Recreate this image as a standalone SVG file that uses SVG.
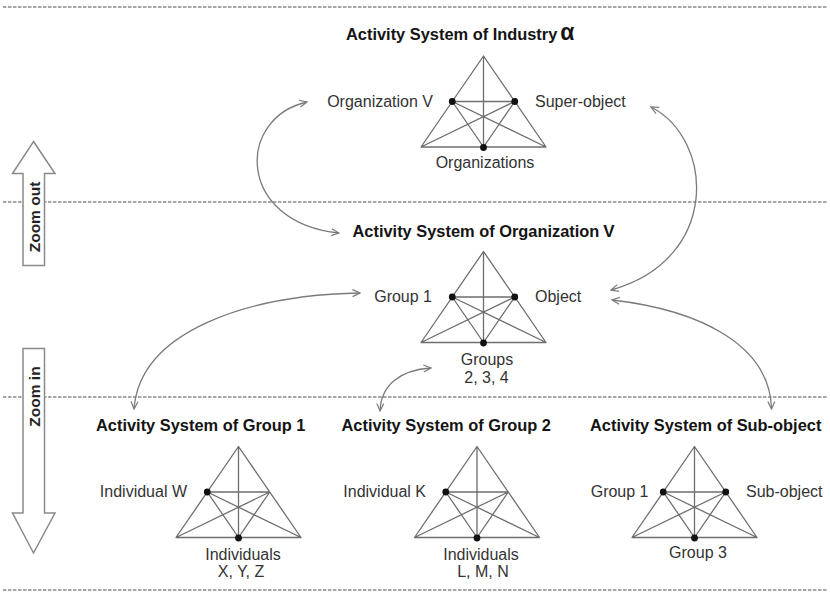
<svg xmlns="http://www.w3.org/2000/svg" xmlns:xlink="http://www.w3.org/1999/xlink" width="830" height="593" viewBox="0 0 830 593">
  <style>
    .sep { stroke: #8a8a8a; stroke-width: 1.5; stroke-dasharray: 3.5 1.5; fill: none; }
    .tri { stroke: #6e6e6e; stroke-width: 1.3; fill: none; stroke-linejoin: round; }
    .dot { fill: #111; }
    .title { font-family: "Liberation Sans", Arial, sans-serif; font-size: 16.4px; font-weight: bold; fill: #141414; }
    .lbl { font-family: "Liberation Sans", Arial, sans-serif; font-size: 16px; fill: #333; }
    .mid { text-anchor: middle; }
    .end { text-anchor: end; }
    .link { stroke: #7a7a7a; stroke-width: 1.3; fill: none; }
    .block { stroke: #8a8a8a; stroke-width: 1.5; fill: #fff; stroke-linejoin: miter; }
    .zoom { font-family: "Liberation Sans", Arial, sans-serif; font-size: 15.5px; font-weight: bold; fill: #222; text-anchor: middle; }
  </style>
  <defs>
    <!-- activity triangle: outer edges, medians and the inner mid-point triangle -->
    <g id="activity-triangle">
      <path class="tri" d="M0,0 L-62.5,91 L62.5,91 Z M0,0 V91 M-31.25,45.5 H31.25 M-31.25,45.5 L62.5,91 M31.25,45.5 L-62.5,91 M-31.25,45.5 L0,91 M31.25,45.5 L0,91"/>
    </g>
    <marker id="open-head" viewBox="-9 -5 10 10" refX="0" refY="0" markerWidth="10" markerHeight="10" markerUnits="userSpaceOnUse" orient="auto-start-reverse">
      <path d="M-7.5,-3.5 L0,0 L-7.5,3.5" fill="none" stroke="#7a7a7a" stroke-width="1.2"/>
    </marker>
  </defs>

  <rect width="830" height="593" fill="#fff"/>

  <!-- level separators -->
  <g id="separators">
    <line class="sep" x1="3" y1="7" x2="828" y2="7"/>
    <line class="sep" x1="3" y1="202" x2="828" y2="202"/>
    <line class="sep" x1="3" y1="397" x2="828" y2="397"/>
    <line class="sep" x1="3" y1="590" x2="828" y2="590"/>
  </g>

  <!-- zoom direction block arrows -->
  <g id="zoom-out">
    <path class="block" d="M33.5,141.5 L55,173.5 L44.5,173.5 L44.5,265.5 L23,265.5 L23,173.5 L12.5,173.5 Z"/>
    <text class="zoom" transform="translate(39.5,217) rotate(-90)">Zoom out</text>
  </g>
  <g id="zoom-in">
    <path class="block" d="M23,348.5 L44.5,348.5 L44.5,513 L55,513 L33.5,553 L12.5,513 L23,513 Z"/>
    <text class="zoom" transform="translate(39.5,396.5) rotate(-90)">Zoom in</text>
  </g>

  <!-- connectors between levels -->
  <g id="connectors">
    <path class="link" d="M307,102 C236,118 236,222 339,233" marker-start="url(#open-head)" marker-end="url(#open-head)"/>
    <path class="link" d="M651,107 C715,140 720,260 611,290" marker-start="url(#open-head)" marker-end="url(#open-head)"/>
    <path class="link" d="M612,300 C700,310 770,345 771.5,409" marker-start="url(#open-head)" marker-end="url(#open-head)"/>
    <path class="link" d="M360,293 C250,295 140,330 134,409" marker-start="url(#open-head)" marker-end="url(#open-head)"/>
    <path class="link" d="M431,368 C400,370 381,385 380,411" marker-start="url(#open-head)" marker-end="url(#open-head)"/>
  </g>

  <!-- industry level -->
  <g id="industry">
    <text class="title" x="346" y="40">Activity System of Industry<tspan dx="3" font-size="23">α</tspan></text>
    <use xlink:href="#activity-triangle" href="#activity-triangle" x="483.5" y="56"/>
    <circle class="dot" cx="452.25" cy="101.5" r="3.4"/>
    <circle class="dot" cx="514.75" cy="101.5" r="3.4"/>
    <circle class="dot" cx="483.5" cy="147.5" r="3.4"/>
    <text class="lbl end" x="433" y="107">Organization V</text>
    <text class="lbl" x="535" y="107">Super-object</text>
    <text class="lbl mid" x="485" y="168">Organizations</text>
  </g>

  <!-- organization level -->
  <g id="organization">
    <text class="title" x="352.5" y="237">Activity System of Organization<tspan dx="4" font-size="17">V</tspan></text>
    <use xlink:href="#activity-triangle" href="#activity-triangle" x="483.5" y="251.5"/>
    <circle class="dot" cx="452.25" cy="297" r="3.4"/>
    <circle class="dot" cx="514.75" cy="297" r="3.4"/>
    <circle class="dot" cx="483.5" cy="343" r="3.4"/>
    <text class="lbl end" x="432" y="302">Group 1</text>
    <text class="lbl" x="535" y="302">Object</text>
    <text class="lbl mid" x="487" y="365">Groups</text>
    <text class="lbl mid" x="486.5" y="383">2, 3, 4</text>
  </g>

  <!-- group level -->
  <g id="group-1">
    <text class="title" x="96" y="431">Activity System of Group 1</text>
    <use xlink:href="#activity-triangle" href="#activity-triangle" x="238.5" y="446.5"/>
    <circle class="dot" cx="207.25" cy="492" r="3.4"/>
    <circle class="dot" cx="238.5" cy="538" r="3.4"/>
    <text class="lbl end" x="187" y="497">Individual W</text>
    <text class="lbl mid" x="243" y="560">Individuals</text>
    <text class="lbl mid" x="241" y="577">X, Y, Z</text>
  </g>

  <g id="group-2">
    <text class="title" x="341.5" y="431">Activity System of Group 2</text>
    <use xlink:href="#activity-triangle" href="#activity-triangle" x="477" y="446.5"/>
    <circle class="dot" cx="445.75" cy="492" r="3.4"/>
    <circle class="dot" cx="477" cy="538" r="3.4"/>
    <text class="lbl end" x="426" y="497">Individual K</text>
    <text class="lbl mid" x="481" y="560">Individuals</text>
    <text class="lbl mid" x="483" y="577">L, M, N</text>
  </g>

  <g id="sub-object">
    <text class="title" x="590" y="431">Activity System of Sub-object</text>
    <use xlink:href="#activity-triangle" href="#activity-triangle" x="694.5" y="446.5"/>
    <circle class="dot" cx="663.25" cy="492" r="3.4"/>
    <circle class="dot" cx="725.75" cy="492" r="3.4"/>
    <circle class="dot" cx="694.5" cy="538" r="3.4"/>
    <text class="lbl end" x="648.5" y="497">Group 1</text>
    <text class="lbl" x="746" y="497">Sub-object</text>
    <text class="lbl mid" x="698" y="558">Group 3</text>
  </g>
</svg>
